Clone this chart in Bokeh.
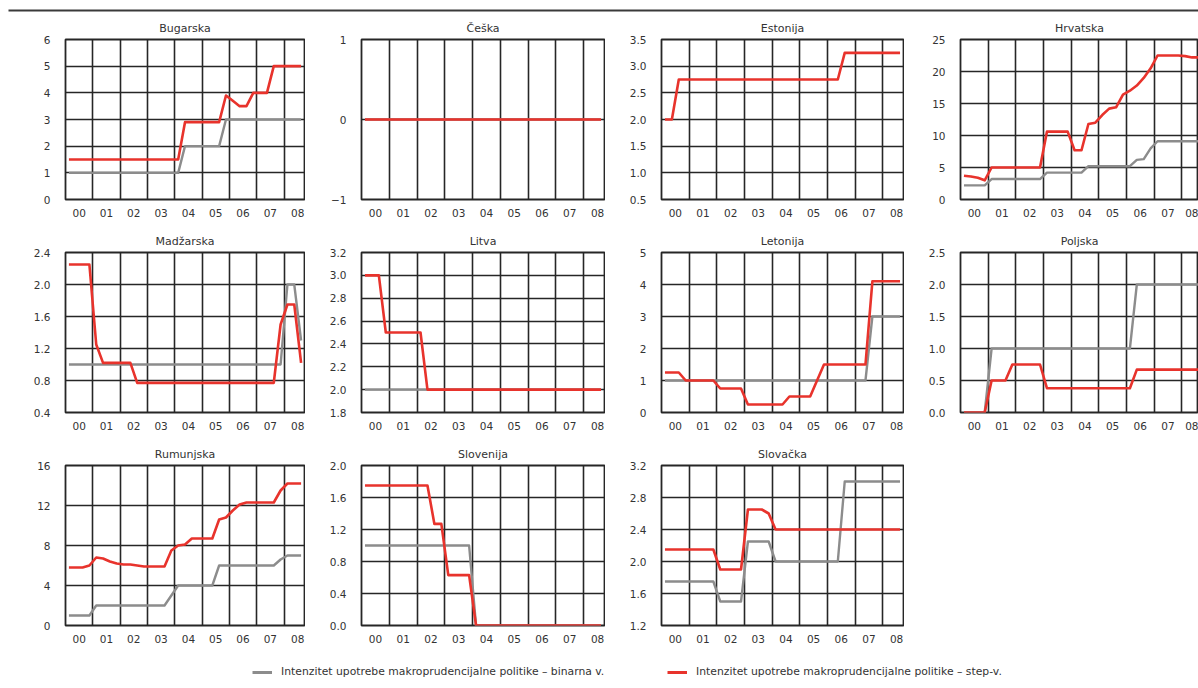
from bokeh.plotting import figure
from bokeh.layouts import column, row
from bokeh.models import FixedTicker, Range1d, Legend, LegendItem
from bokeh.embed import file_html
from bokeh.resources import INLINE

# ---------------- data ----------------
YEAR_LABELS = ["00", "01", "02", "03", "04", "05", "06", "07", "08"]
LEGEND_LABELS = ["Intenzitet upotrebe makroprudencijalne politike – binarna v.",
                 "Intenzitet upotrebe makroprudencijalne politike – step-v."]

# quarterly values, 2000Q1 ... 2008Q3
BUGARSKA_Y = ["0", "1", "2", "3", "4", "5", "6"]
BUGARSKA_BIN = [1, 1, 1, 1, 1, 1, 1, 1, 1, 1, 1, 1, 1, 1, 1, 1, 1,
                2, 2, 2, 2, 2, 2,
                3, 3, 3, 3, 3, 3, 3, 3, 3, 3, 3, 3]
BUGARSKA_STEP = [1.5, 1.5, 1.5, 1.5, 1.5, 1.5, 1.5, 1.5, 1.5, 1.5, 1.5, 1.5, 1.5, 1.5, 1.5, 1.5, 1.5,
                 2.9, 2.9, 2.9, 2.9, 2.9, 2.9,
                 3.9, 3.7, 3.5, 3.5, 4.0, 4.0, 4.0, 5.0, 5.0, 5.0, 5.0, 5.0]

CESKA_Y = ["−1", "0", "1"]
CESKA_BIN = [0, 0, 0, 0, 0, 0, 0, 0, 0, 0, 0, 0, 0, 0, 0, 0, 0, 0,
             0, 0, 0, 0, 0, 0, 0, 0, 0, 0, 0, 0, 0, 0, 0, 0, 0]
CESKA_STEP = [0, 0, 0, 0, 0, 0, 0, 0, 0, 0, 0, 0, 0, 0, 0, 0, 0, 0,
              0, 0, 0, 0, 0, 0, 0, 0, 0, 0, 0, 0, 0, 0, 0, 0, 0]

ESTONIJA_Y = ["0.5", "1.0", "1.5", "2.0", "2.5", "3.0", "3.5"]
ESTONIJA_BIN = None
ESTONIJA_STEP = [2.0, 2.0, 2.75, 2.75, 2.75, 2.75, 2.75, 2.75, 2.75, 2.75, 2.75, 2.75, 2.75,
                 2.75, 2.75, 2.75, 2.75, 2.75, 2.75, 2.75, 2.75, 2.75, 2.75, 2.75, 2.75, 2.75,
                 3.25, 3.25, 3.25, 3.25, 3.25, 3.25, 3.25, 3.25, 3.25]

HRVATSKA_Y = ["0", "5", "10", "15", "20", "25"]
HRVATSKA_BIN = [2.2, 2.2, 2.2, 2.2, 3.2, 3.2, 3.2, 3.2, 3.2, 3.2, 3.2, 3.2,
                4.2, 4.2, 4.2, 4.2, 4.2, 4.2, 5.2, 5.2, 5.2, 5.2, 5.2, 5.2, 5.2,
                6.2, 6.3, 8.0, 9.1, 9.1, 9.1, 9.1, 9.1, 9.1, 9.1]
HRVATSKA_STEP = [3.7, 3.6, 3.4, 3.0, 5.0, 5.0, 5.0, 5.0, 5.0, 5.0, 5.0, 5.0,
                 10.6, 10.6, 10.6, 10.6, 7.7, 7.7, 11.8, 12.0, 13.2, 14.2, 14.4, 16.4,
                 17.0, 17.8, 19.0, 20.5, 22.5, 22.5, 22.5, 22.5, 22.4, 22.2, 22.2]

MADZARSKA_Y = ["0.4", "0.8", "1.2", "1.6", "2.0", "2.4"]
MADZARSKA_BIN = [1, 1, 1, 1, 1, 1, 1, 1, 1, 1, 1, 1, 1, 1, 1, 1, 1, 1, 1, 1,
                 1, 1, 1, 1, 1, 1, 1, 1, 1, 1, 1, 1, 2.0, 2.0, 1.3]
MADZARSKA_STEP = [2.25, 2.25, 2.25, 2.25, 1.25, 1.02, 1.02, 1.02, 1.02, 1.02,
                  0.77, 0.77, 0.77, 0.77, 0.77, 0.77, 0.77, 0.77, 0.77, 0.77, 0.77,
                  0.77, 0.77, 0.77, 0.77, 0.77, 0.77, 0.77, 0.77, 0.77, 0.77,
                  1.5, 1.75, 1.75, 1.02]

LITVA_Y = ["1.8", "2.0", "2.2", "2.4", "2.6", "2.8", "3.0", "3.2"]
LITVA_BIN = [2, 2, 2, 2, 2, 2, 2, 2, 2, 2, 2, 2, 2, 2, 2, 2, 2, 2,
             2, 2, 2, 2, 2, 2, 2, 2, 2, 2, 2, 2, 2, 2, 2, 2, 2]
LITVA_STEP = [3.0, 3.0, 3.0, 2.5, 2.5, 2.5, 2.5, 2.5, 2.5,
              2.0, 2.0, 2.0, 2.0, 2.0, 2.0, 2.0, 2.0, 2.0, 2.0, 2.0, 2.0, 2.0,
              2.0, 2.0, 2.0, 2.0, 2.0, 2.0, 2.0, 2.0, 2.0, 2.0, 2.0, 2.0, 2.0]

LETONIJA_Y = ["0", "1", "2", "3", "4", "5"]
LETONIJA_BIN = [1, 1, 1, 1, 1, 1, 1, 1, 1, 1, 1, 1, 1, 1, 1, 1, 1, 1, 1, 1,
                1, 1, 1, 1, 1, 1, 1, 1, 1, 1, 3, 3, 3, 3, 3]
LETONIJA_STEP = [1.25, 1.25, 1.25, 1.0, 1.0, 1.0, 1.0, 1.0, 0.75, 0.75, 0.75, 0.75,
                 0.25, 0.25, 0.25, 0.25, 0.25, 0.25, 0.5, 0.5, 0.5, 0.5, 1.0,
                 1.5, 1.5, 1.5, 1.5, 1.5, 1.5, 1.5, 4.1, 4.1, 4.1, 4.1, 4.1]

POLJSKA_Y = ["0.0", "0.5", "1.0", "1.5", "2.0", "2.5"]
POLJSKA_BIN = [0, 0, 0, 0, 1, 1, 1, 1, 1, 1, 1, 1, 1, 1, 1, 1, 1, 1, 1, 1,
               1, 1, 1, 1, 1, 2, 2, 2, 2, 2, 2, 2, 2, 2, 2]
POLJSKA_STEP = [0.0, 0.0, 0.0, 0.0, 0.5, 0.5, 0.5, 0.75, 0.75, 0.75, 0.75, 0.75,
                0.38, 0.38, 0.38, 0.38, 0.38, 0.38, 0.38, 0.38, 0.38, 0.38, 0.38, 0.38, 0.38,
                0.67, 0.67, 0.67, 0.67, 0.67, 0.67, 0.67, 0.67, 0.67, 0.67]

RUMUNJSKA_Y = ["0", "4", "8", "12", "16"]
RUMUNJSKA_BIN = [1, 1, 1, 1, 2, 2, 2, 2, 2, 2, 2, 2, 2, 2, 2, 3, 4, 4, 4, 4, 4, 4,
                 6, 6, 6, 6, 6, 6, 6, 6, 6, 6.6, 7, 7, 7]
RUMUNJSKA_STEP = [5.8, 5.8, 5.8, 6.0, 6.8, 6.7, 6.4, 6.2, 6.1, 6.1, 6.0, 5.9, 5.9, 5.9, 5.9,
                  7.5, 8.0, 8.1, 8.7, 8.7, 8.7, 8.7, 10.6, 10.8, 11.5, 12.1, 12.3, 12.3,
                  12.3, 12.3, 12.3, 13.5, 14.2, 14.2, 14.2]

SLOVENIJA_Y = ["0.0", "0.4", "0.8", "1.2", "1.6", "2.0"]
SLOVENIJA_BIN = [1, 1, 1, 1, 1, 1, 1, 1, 1, 1, 1, 1, 1, 1, 1, 1,
                 0, 0, 0, 0, 0, 0, 0, 0, 0, 0, 0, 0, 0, 0, 0, 0, 0, 0, 0]
SLOVENIJA_STEP = [1.75, 1.75, 1.75, 1.75, 1.75, 1.75, 1.75, 1.75, 1.75, 1.75,
                  1.27, 1.27, 0.63, 0.63, 0.63, 0.63,
                  0, 0, 0, 0, 0, 0, 0, 0, 0, 0, 0, 0, 0, 0, 0, 0, 0, 0, 0]

SLOVACKA_Y = ["1.2", "1.6", "2.0", "2.4", "2.8", "3.2"]
SLOVACKA_BIN = [1.75, 1.75, 1.75, 1.75, 1.75, 1.75, 1.75, 1.75, 1.5, 1.5, 1.5, 1.5,
                2.25, 2.25, 2.25, 2.25, 2.0, 2.0, 2.0, 2.0, 2.0, 2.0, 2.0, 2.0, 2.0, 2.0,
                3.0, 3.0, 3.0, 3.0, 3.0, 3.0, 3.0, 3.0, 3.0]
SLOVACKA_STEP = [2.15, 2.15, 2.15, 2.15, 2.15, 2.15, 2.15, 2.15, 1.9, 1.9, 1.9, 1.9,
                 2.65, 2.65, 2.65, 2.6, 2.4, 2.4, 2.4, 2.4, 2.4, 2.4, 2.4, 2.4, 2.4,
                 2.4, 2.4, 2.4, 2.4, 2.4, 2.4, 2.4, 2.4, 2.4, 2.4]

PANELS = [
    ("Bugarska", BUGARSKA_Y, BUGARSKA_BIN, BUGARSKA_STEP),
    ("Češka", CESKA_Y, CESKA_BIN, CESKA_STEP),
    ("Estonija", ESTONIJA_Y, ESTONIJA_BIN, ESTONIJA_STEP),
    ("Hrvatska", HRVATSKA_Y, HRVATSKA_BIN, HRVATSKA_STEP),
    ("Madžarska", MADZARSKA_Y, MADZARSKA_BIN, MADZARSKA_STEP),
    ("Litva", LITVA_Y, LITVA_BIN, LITVA_STEP),
    ("Letonija", LETONIJA_Y, LETONIJA_BIN, LETONIJA_STEP),
    ("Poljska", POLJSKA_Y, POLJSKA_BIN, POLJSKA_STEP),
    ("Rumunjska", RUMUNJSKA_Y, RUMUNJSKA_BIN, RUMUNJSKA_STEP),
    ("Slovenija", SLOVENIJA_Y, SLOVENIJA_BIN, SLOVENIJA_STEP),
    ("Slovačka", SLOVACKA_Y, SLOVACKA_BIN, SLOVACKA_STEP),
]

# ---------------- style ----------------
FONT = "DejaVu Sans"
TXT = "#333333"
GRID = "#262626"
RED = "#e8332c"
GRAY = "#8c8c8c"
X_END = 8.75                     # 2000 .. 2008Q3
COL_W = [305, 300, 299, 294]
COL_L = [65, 56, 56, 56]
COL_F = [239, 243, 242, 238]
ROW_H = 213
TOP_B = 27
FRAME_H = 160
PAGE_W = sum(COL_W)


def quarter_x(values):
    return [i / 4 + 0.125 for i in range(len(values))]


def make_panel(idx, title, ylabels, binarna, step):
    col = idx % 4
    yt = [float(s.replace("−", "-")) for s in ylabels]
    x_end = X_END if col < 3 else X_END * COL_F[3] / COL_F[2]
    p = figure(width=COL_W[col], height=ROW_H,
               x_range=Range1d(0, x_end), y_range=Range1d(yt[0], yt[-1]),
               output_backend="svg", toolbar_location=None,
               min_border_left=COL_L[col],
               min_border_right=COL_W[col] - COL_L[col] - COL_F[col],
               min_border_top=TOP_B, min_border_bottom=ROW_H - TOP_B - FRAME_H)
    p.title.text = title
    p.title.align = "center"
    p.title.text_font = FONT
    p.title.text_font_size = "11px"
    p.title.text_font_style = "normal"
    p.title.text_color = TXT
    p.title.standoff = 9

    xt = [i + 0.5 for i in range(len(YEAR_LABELS))]
    p.xaxis.ticker = FixedTicker(ticks=xt)
    p.xaxis.major_label_overrides = {t: s for t, s in zip(xt, YEAR_LABELS)}
    p.yaxis.ticker = FixedTicker(ticks=yt)
    p.yaxis.major_label_overrides = {t: s for t, s in zip(yt, ylabels)}
    for ax in (p.xaxis, p.yaxis):
        ax.axis_line_color = None
        ax.major_tick_line_color = None
        ax.minor_tick_line_color = None
        ax.major_label_text_font = FONT
        ax.major_label_text_font_size = "10.5px"
        ax.major_label_text_color = TXT
    p.xaxis.major_label_standoff = 3
    p.yaxis.major_label_standoff = 9

    p.xgrid.ticker = FixedTicker(ticks=list(range(1, len(YEAR_LABELS))))
    p.ygrid.ticker = FixedTicker(ticks=yt)
    for g in (p.xgrid, p.ygrid):
        g.grid_line_color = GRID
        g.grid_line_width = 1.6
    p.outline_line_color = GRID
    p.outline_line_width = 1.8

    if binarna is not None:
        p.line(quarter_x(binarna), binarna, line_color=GRAY, line_width=2.4, line_join="round")
    p.line(quarter_x(step), step, line_color=RED, line_width=2.6, line_join="round")
    return p


figs = [make_panel(i, *panel) for i, panel in enumerate(PANELS)]

# top rule: a header strip whose 2px frame is filled dark
rule = figure(width=PAGE_W, height=12, output_backend="svg", toolbar_location=None,
              x_range=Range1d(0, 1), y_range=Range1d(0, 1),
              x_axis_type=None, y_axis_type=None,
              min_border_left=8, min_border_right=0, min_border_top=9, min_border_bottom=1,
              background_fill_color="#3a3a3a", border_fill_color="white",
              outline_line_color=None)
rule.xgrid.visible = False
rule.ygrid.visible = False
rule.title.visible = False

# legend strip: its renderers are hidden, only their legend glyphs are shown
lf = figure(width=PAGE_W, height=34, output_backend="svg", toolbar_location=None,
            x_range=Range1d(0, 1), y_range=Range1d(0, 1),
            x_axis_type=None, y_axis_type=None, min_border=0)
lf.outline_line_color = None
lf.xgrid.visible = False
lf.ygrid.visible = False
r_bin = lf.line(quarter_x(BUGARSKA_BIN), BUGARSKA_BIN, line_color=GRAY, line_width=3, visible=False)
r_step = lf.line(quarter_x(BUGARSKA_STEP), BUGARSKA_STEP, line_color=RED, line_width=3, visible=False)
for rend, label, loc in ((r_bin, LEGEND_LABELS[0], (244, 7)), (r_step, LEGEND_LABELS[1], (659, 7))):
    leg = Legend(items=[LegendItem(label=label, renderers=[rend])], location=loc,
                 border_line_color=None, background_fill_alpha=0, padding=0, margin=0,
                 glyph_width=20, glyph_height=12, label_height=12, label_standoff=9,
                 label_text_font=FONT, label_text_font_size="10.8px", label_text_color=TXT)
    lf.add_layout(leg)

layout = column(rule,
                row(*figs[0:4]),
                row(*figs[4:8]),
                row(*figs[8:11]),
                lf)

open("out.html", "w").write(file_html(layout, INLINE))
